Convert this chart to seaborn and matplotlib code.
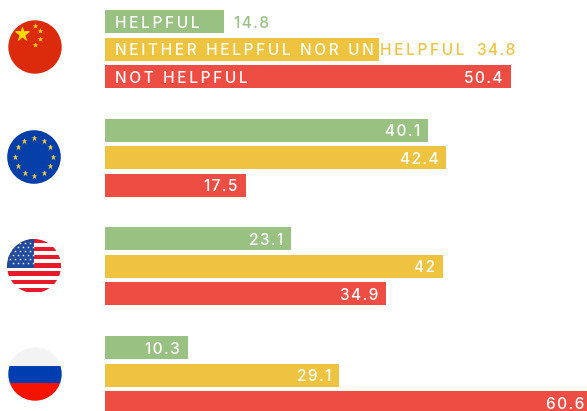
import matplotlib
matplotlib.use("Agg")
import matplotlib.pyplot as plt
import numpy as np
import pandas as pd
import seaborn as sns
from matplotlib.patches import Circle, Rectangle

regions = ["China", "EU", "USA", "Russia"]
responses = ["Helpful", "Neither", "Not helpful"]
helpful = [14.8, 40.1, 23.1, 10.3]
neither = [34.0, 42.4, 42.0, 29.1]
not_helpful = [50.4, 17.5, 34.9, 60.6]
helpful_text = ["14.8", "40.1", "23.1", "10.3"]
neither_text = ["34.8", "42.4", "42", "29.1"]
not_helpful_text = ["50.4", "17.5", "34.9", "60.6"]
palette = ["#98C182", "#EDC33F", "#EE4D44"]

FONT = ["Inter", "DejaVu Sans"]
plt.rcParams["font.family"] = FONT


def spaced(s, sp="\u2009"):
    return sp.join(s)


df = pd.DataFrame({
    "region": np.repeat(regions, 3),
    "response": responses * 4,
    "value": np.ravel(np.column_stack([helpful, neither, not_helpful])),
})

fig = plt.figure(figsize=(5.87, 4.11), dpi=100)
ax = fig.add_axes([0, 0, 1, 1])
sns.barplot(data=df, y="region", x="value", hue="response", order=regions,
            hue_order=responses, palette=palette, saturation=1, width=0.759,
            gap=0.164, legend=False, ax=ax, orient="h")
ax.set_xlim(-105 / 8.05, (587 - 105) / 8.05)
ax.set_ylim(3.331, -0.451)
ax.axis("off")

FS = 11.1
WT = 500


def put(xy, txt, dx, ha, color):
    ax.annotate(spaced(txt, "\u200a"), xy=xy, xytext=(dx, 0), textcoords="offset pixels",
                ha=ha, va="center_baseline", color=color, fontsize=FS, weight=WT,
                annotation_clip=False)


texts = [helpful_text, neither_text, not_helpful_text]
for j, cont in enumerate(ax.containers):
    for i, bar in enumerate(cont.patches):
        xy = (bar.get_width(), bar.get_y() + bar.get_height() / 2)
        if i == 0 and j < 2:
            put(xy, texts[j][i], 98 if j == 1 else 10, "left", palette[j])
        else:
            put(xy, texts[j][i], -8, "right", "white")

c_bars = [c.patches[0] for c in ax.containers]
for j, label in enumerate(["HELPFUL", "NEITHER HELPFUL NOR UN", "NOT HELPFUL"]):
    b = c_bars[j]
    ax.annotate(spaced(label), xy=(0, b.get_y() + b.get_height() / 2), xytext=(10, 0),
                textcoords="offset pixels", ha="left", va="center_baseline",
                color="white", fontsize=FS, weight=WT)
b = c_bars[1]
ax.annotate(spaced("HELPFUL"), xy=(b.get_width(), b.get_y() + b.get_height() / 2),
            xytext=(1, 0), textcoords="offset pixels", ha="left",
            va="center_baseline", color=palette[1], fontsize=FS, weight=WT)

# Flags, on a transparent overlay measured in figure pixels
ov = fig.add_axes([0, 0, 1, 1], facecolor="none")
ov.set_xlim(0, 587)
ov.set_ylim(411, 0)
ov.axis("off")


def clip(artist, circ):
    artist.set_clip_path(circ)
    return artist


def rect(circ, x, y, w, h, col):
    ov.add_patch(clip(Rectangle((x, y), w, h, fc=col, ec="none", zorder=3), circ))


def stars(circ, xs, ys, size, col):
    line, = ov.plot(xs, ys, ls="none", marker="*", ms=size, mfc=col, mec="none", zorder=4)
    clip(line, circ)


# China
cx, cy, r = 35, 47, 26.7
c = Circle((cx, cy), r, transform=ov.transData)
rect(c, cx - r, cy - r, 2 * r, 2 * r, "#DB2A0C")
stars(c, [21.5], [34], 12, "#FFD800")
stars(c, [35, 40, 40, 35], [26, 31.5, 39.5, 45], 3.8, "#FFD800")

# EU
cx, cy, r = 34, 157, 26.8
c = Circle((cx, cy), r, transform=ov.transData)
rect(c, cx - r, cy - r, 2 * r, 2 * r, "#063FA8")
a = np.deg2rad(np.arange(0, 360, 30))
stars(c, cx + 19 * np.cos(a), cy + 19 * np.sin(a), 4.5, "#FFD23F")

# USA
cx, cy, r = 34, 266, 27
c = Circle((cx, cy), r, transform=ov.transData)
rect(c, cx - r, cy - r, 2 * r, 2 * r, "white")
sh = 8.1
for k in range(0, 7):
    rect(c, cx - r, 239 + k * sh, 2 * r, sh / 2 + 0.2, "#E8192A")
rect(c, cx - r, cy - r, 27, 28.5, "#1F4A9E")
sx, sy = np.meshgrid(np.arange(10, 34, 5.0), np.arange(243, 267, 4.0))
sx = sx + (np.arange(sx.shape[0])[:, None] % 2) * 2.5
stars(c, sx.ravel(), sy.ravel(), 2.0, "white")

# Russia
cx, cy, r = 35, 374, 26.7
c = Circle((cx, cy), r, transform=ov.transData)
rect(c, cx - r, cy - r, 2 * r, 2 * r, "#F3F3F3")
rect(c, cx - r, 366, 2 * r, 17, "#003DB0")
rect(c, cx - r, 383, 2 * r, 20, "#F61400")

fig.savefig("out.png", dpi=100)
